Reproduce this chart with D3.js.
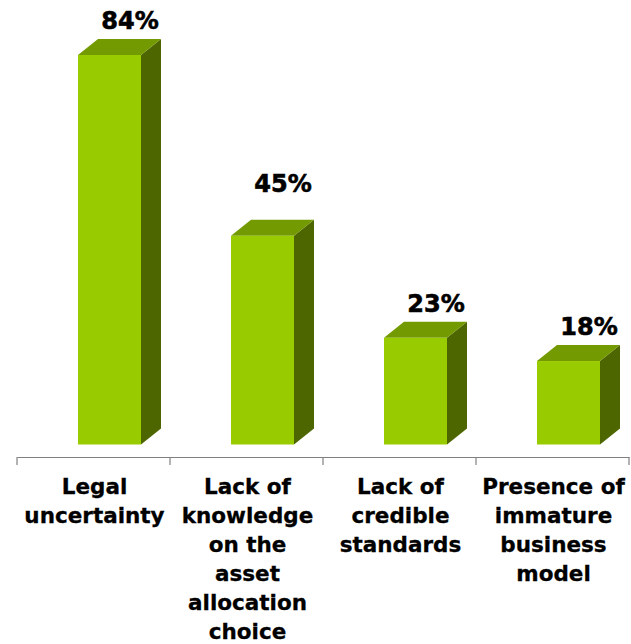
<!DOCTYPE html>
<html>
<head>
<meta charset="utf-8">
<script src="https://cdn.jsdelivr.net/npm/d3@7"></script>
<style>
  html, body { margin: 0; padding: 0; background: #ffffff; }
  svg { display: block; }
  text { font-family: "DejaVu Sans", Verdana, sans-serif; font-weight: bold; fill: #000; }
</style>
</head>
<body>
<script>
// Barriers reported, share of respondents (%)
const categories = [
  ["Legal", "uncertainty"],
  ["Lack of", "knowledge", "on the", "asset", "allocation", "choice"],
  ["Lack of", "credible", "standards"],
  ["Presence of", "immature", "business", "model"]
];
const values = [84, 45, 23, 18];
const valueLabels = ["84%", "45%", "23%", "18%"];

const W = 631, H = 644;
const svg = d3.select("body").append("svg").attr("width", W).attr("height", H);

// layout
const axisY = 457;
const baseY = 444.5;
const frontW = 63;
const depthX = 20, depthY = 16;

const x = d3.scaleBand().domain(d3.range(values.length)).range([17, 629]).padding(0);
const y = d3.scaleLinear().domain([0, 84]).range([baseY, 55]);

const colFront = "#99cc00", colTop = "#739a00", colSide = "#4d6600";

const bars = svg.append("g").selectAll("g").data(values).join("g");

bars.each(function(v, i) {
  const g = d3.select(this);
  const x0 = x(i) + x.bandwidth() / 2 + 16 - frontW / 2;
  const x1 = x0 + frontW;
  const yt = y(v);
  // side face
  g.append("path")
    .attr("d", `M${x1},${yt}L${x1 + depthX},${yt - depthY}L${x1 + depthX},${baseY - depthY}L${x1},${baseY}Z`)
    .attr("fill", colSide);
  // top face
  g.append("path")
    .attr("d", `M${x0},${yt}L${x0 + depthX},${yt - depthY}L${x1 + depthX},${yt - depthY}L${x1},${yt}Z`)
    .attr("fill", colTop);
  // front face
  g.append("rect")
    .attr("x", x0).attr("y", yt)
    .attr("width", frontW).attr("height", baseY - yt)
    .attr("fill", colFront);
});

// value labels above each bar
const labelLift = [0, 18, 0, 0];
svg.append("g").selectAll("text").data(values).join("text")
  .attr("x", (v, i) => x(i) + x.bandwidth() / 2 + 16 - frontW / 2 + 52)
  .attr("y", (v, i) => y(v) - depthY - 10 - labelLift[i])
  .attr("text-anchor", "middle")
  .style("font-size", "24px")
  .style("stroke", "#000").style("stroke-width", "0.6px")
  .text((v, i) => valueLabels[i]);

// category axis
const axis = svg.append("g").attr("transform", `translate(0,${axisY})`);
axis.call(d3.axisBottom(x).tickValues([]).tickSizeOuter(0).tickFormat(""));
axis.select(".domain").attr("stroke", "#808080").attr("stroke-width", 1.2);
const boundaries = d3.range(values.length + 1).map(i => i < values.length ? x(i) : x.range()[1]);
axis.selectAll("line.sep").data(boundaries).join("line")
  .attr("class", "sep")
  .attr("x1", d => d).attr("x2", d => d)
  .attr("y1", 0).attr("y2", 8)
  .attr("stroke", "#808080").attr("stroke-width", 1.2);

// wrapped category names
const catG = svg.append("g").selectAll("text").data(categories).join("text")
  .attr("text-anchor", "middle")
  .style("font-size", "21.5px")
  .style("stroke", "#000").style("stroke-width", "0.3px");
catG.each(function(lines, i) {
  const t = d3.select(this);
  lines.forEach((ln, k) => {
    t.append("tspan")
      .attr("x", x(i) + x.bandwidth() / 2 + 1)
      .attr("y", 494 + k * 29)
      .text(ln);
  });
});
</script>
</body>
</html>
